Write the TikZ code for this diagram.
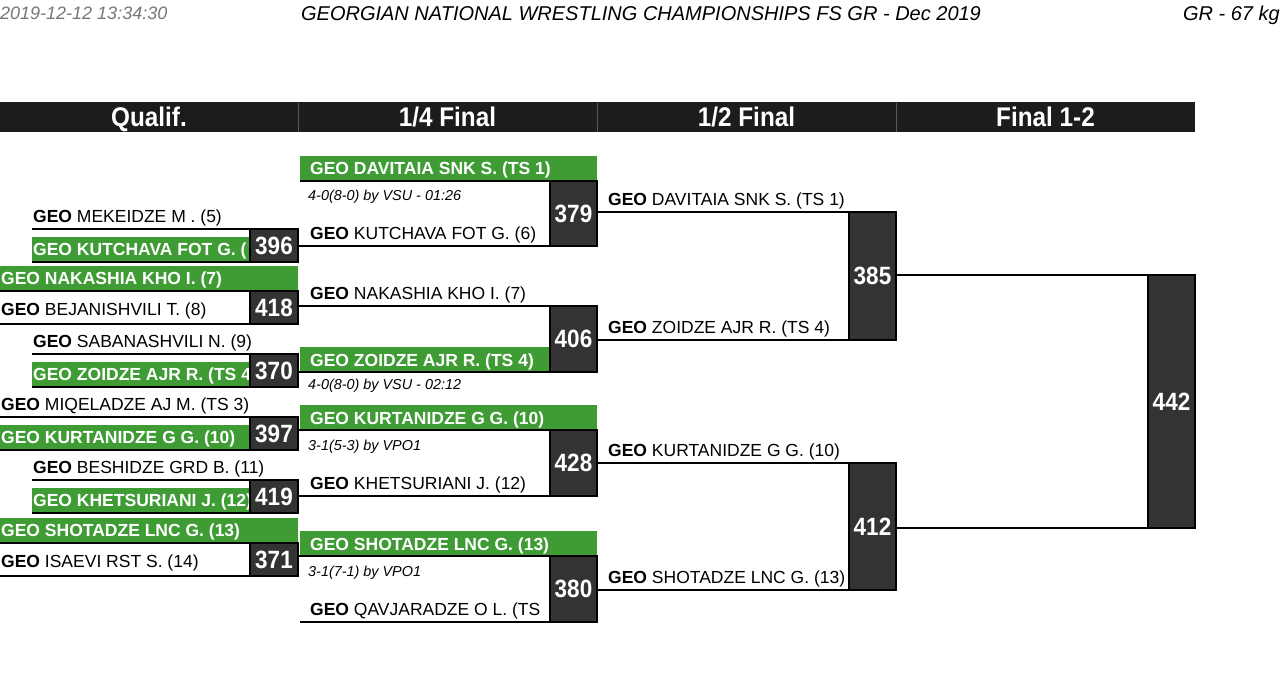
\documentclass[tikz,border=0pt]{standalone}
\usepackage{fontspec}
\setmainfont{Liberation Sans}
\newfontfamily\condf[FakeStretch=0.9]{Liberation Sans}
\definecolor{gwin}{HTML}{3F9C35}
\definecolor{boxc}{HTML}{333333}
\definecolor{hdrc}{HTML}{1C1C1C}
\definecolor{tsgray}{HTML}{777777}
\newcommand\nmfont{\fontsize{17.5}{20}\selectfont}
\newcommand\scfont{\fontsize{14.4}{16}\selectfont\itshape}
\newcommand\nbfont{\condf\bfseries\fontsize{25}{28}\selectfont}
\newcommand\hdfont{\condf\bfseries\fontsize{27}{30}\selectfont}
\newcommand\ttlfont{\fontsize{20}{22}\selectfont\itshape}
\newcommand\tsfont{\fontsize{18}{20}\selectfont\itshape}
\tikzset{
 ln/.style={draw=black, line width=2pt},
 numbox/.style={draw=black, line width=1.5pt, fill=boxc, text=white, font=\nbfont, inner sep=0pt, outer sep=0pt},
 qbox/.style={numbox, minimum width=48pt, minimum height=33pt},
 rbox/.style={numbox, minimum width=47pt},
 nm/.style={anchor=base west, inner sep=0pt, font=\nmfont},
 wn/.style={anchor=base west, inner sep=0pt, font=\nmfont\bfseries, text=white},
 sc/.style={anchor=base west, inner sep=0pt, font=\scfont},
 hdrtxt/.style={anchor=base, inner sep=0pt, font=\hdfont, text=white},
}
\begin{document}
\begin{tikzpicture}[x=1pt,y=-1pt]
\fill[white] (0,0) rectangle (1280,675);
\useasboundingbox (0,0) rectangle (1280,675);
% title line
\node[anchor=base west, inner sep=0pt, text=tsgray, font=\tsfont] (ts) at (0,19) {2019-12-12 13:34:30};
\node[anchor=base, inner sep=0pt, font=\ttlfont] (title) at (641,20) {GEORGIAN NATIONAL WRESTLING CHAMPIONSHIPS FS GR - Dec 2019};
\node[anchor=base east, inner sep=0pt, font=\ttlfont] (wt) at (1280,20) {GR - 67 kg};
% header bar
\fill[hdrc] (0,102) rectangle (1195,132);
\foreach \x in {298,597,896} \draw[gray!70!black, line width=0.8pt] (\x,102.5) -- (\x,131.5);
\node[hdrtxt] (h1) at (149,126.5) {Qualif.};
\node[hdrtxt] (h2) at (447.5,126.5) {1/4 Final};
\node[hdrtxt] (h3) at (746.5,126.5) {1/2 Final};
\node[hdrtxt] (h4) at (1045.5,126.5) {Final 1-2};

% ---------- Qualif ----------
\fill[gwin] (32,237) rectangle (250,262);
\fill[gwin] (0,266) rectangle (298,291);
\fill[gwin] (32,362) rectangle (250,387);
\fill[gwin] (0,425) rectangle (250,450);
\fill[gwin] (32,488) rectangle (250,513);
\fill[gwin] (0,518) rectangle (298,543);

\node[nm] (m1t) at (33,222) {\textbf{GEO} MEKEIDZE M . (5)};
\node[wn] (m1w) at (33,255) {GEO KUTCHAVA FOT G. (};
\node[wn] (m2w) at (1,284) {GEO NAKASHIA KHO I. (7)};
\node[nm] (m2b) at (1,315) {\textbf{GEO} BEJANISHVILI T. (8)};
\node[nm] (m3t) at (33,347) {\textbf{GEO} SABANASHVILI N. (9)};
\node[wn] (m3w) at (33,380) {GEO ZOIDZE AJR R. (TS 4};
\node[nm] (m4t) at (1,410) {\textbf{GEO} MIQELADZE AJ M. (TS 3)};
\node[wn] (m4w) at (1,443) {GEO KURTANIDZE G G. (10)};
\node[nm] (m5t) at (33,473) {\textbf{GEO} BESHIDZE GRD B. (11)};
\node[wn] (m5w) at (33,506) {GEO KHETSURIANI J. (12)};
\node[wn] (m6w) at (1,536) {GEO SHOTADZE LNC G. (13)};
\node[nm] (m6b) at (1,567) {\textbf{GEO} ISAEVI RST S. (14)};

\node[qbox] (m1) at (274,245.5) {396};
\node[qbox] (m2) at (274,307.5) {418};
\node[qbox] (m3) at (274,370.5) {370};
\node[qbox] (m4) at (274,433.5) {397};
\node[qbox] (m5) at (274,496.5) {419};
\node[qbox] (m6) at (274,559.5) {371};

\draw[ln] (32,229) -- (m1.north west);
\draw[ln] (32,262) -- (m1.south west);
\draw[ln] (0,291) -- (m2.north west);
\draw[ln] (0,324) -- (m2.south west);
\draw[ln] (32,354) -- (m3.north west);
\draw[ln] (32,387) -- (m3.south west);
\draw[ln] (0,417) -- (m4.north west);
\draw[ln] (0,450) -- (m4.south west);
\draw[ln] (32,480) -- (m5.north west);
\draw[ln] (32,513) -- (m5.south west);
\draw[ln] (0,543) -- (m6.north west);
\draw[ln] (0,576) -- (m6.south west);

% ---------- 1/4 Final ----------
\fill[gwin] (300,156) rectangle (597,181);
\fill[gwin] (300,347) rectangle (550,372);
\fill[gwin] (300,405) rectangle (597,430);
\fill[gwin] (300,531) rectangle (597,556);

\node[wn] (q1w) at (310,174) {GEO DAVITAIA SNK S. (TS 1)};
\node[sc] (q1s) at (308,200) {4-0(8-0) by VSU - 01:26};
\node[nm] (q1b) at (310,239) {\textbf{GEO} KUTCHAVA FOT G. (6)};
\node[nm] (q2t) at (310,299) {\textbf{GEO} NAKASHIA KHO I. (7)};
\node[wn] (q2w) at (310,366) {GEO ZOIDZE AJR R. (TS 4)};
\node[sc] (q2s) at (308,389) {4-0(8-0) by VSU - 02:12};
\node[wn] (q3w) at (310,424) {GEO KURTANIDZE G G. (10)};
\node[sc] (q3s) at (308,450) {3-1(5-3) by VPO1};
\node[nm] (q3b) at (310,489) {\textbf{GEO} KHETSURIANI J. (12)};
\node[wn] (q4w) at (310,550) {GEO SHOTADZE LNC G. (13)};
\node[sc] (q4s) at (308,576) {3-1(7-1) by VPO1};
\node[nm] (q4b) at (310,615) {\textbf{GEO} QAVJARADZE O L. (TS};

\node[rbox, minimum height=65pt] (q1) at (573.5,213.5) {379};
\node[rbox, minimum height=66pt] (q2) at (573.5,339) {406};
\node[rbox, minimum height=66pt] (q3) at (573.5,463) {428};
\node[rbox, minimum height=66pt] (q4) at (573.5,589) {380};

\draw[ln] (300,181) -- (q1.north west);
\draw[ln] (m1.east |- q1.south west) -- (q1.south west);
\draw[ln] (m2.east |- q2.north west) -- (q2.north west);
\draw[ln] (m3.east |- q2.south west) -- (q2.south west);
\draw[ln] (m4.east |- q3.north west) -- (q3.north west);
\draw[ln] (m5.east |- q3.south west) -- (q3.south west);
\draw[ln] (m6.east |- q4.north west) -- (q4.north west);
\draw[ln] (300,622) -- (q4.south west);

% ---------- 1/2 Final ----------
\node[nm] (s1t) at (608,205) {\textbf{GEO} DAVITAIA SNK S. (TS 1)};
\node[nm] (s1b) at (608,333) {\textbf{GEO} ZOIDZE AJR R. (TS 4)};
\node[nm] (s2t) at (608,456) {\textbf{GEO} KURTANIDZE G G. (10)};
\node[nm] (s2b) at (608,583) {\textbf{GEO} SHOTADZE LNC G. (13)};

\node[rbox, minimum height=128pt] (s1) at (872.5,276) {385};
\node[rbox, minimum height=127pt] (s2) at (872.5,526.5) {412};

\draw[ln] (q1.east |- s1.north west) -- (s1.north west);
\draw[ln] (q2.east |- s1.south west) -- (s1.south west);
\draw[ln] (q3.east |- s2.north west) -- (s2.north west);
\draw[ln] (q4.east |- s2.south west) -- (s2.south west);

% ---------- Final ----------
\node[rbox, minimum height=253pt] (f) at (1171.5,401.5) {442};
\draw[ln] (s1.east |- f.north west) -- (f.north west);
\draw[ln] (s2.east |- f.south west) -- (f.south west);
\end{tikzpicture}
\end{document}
